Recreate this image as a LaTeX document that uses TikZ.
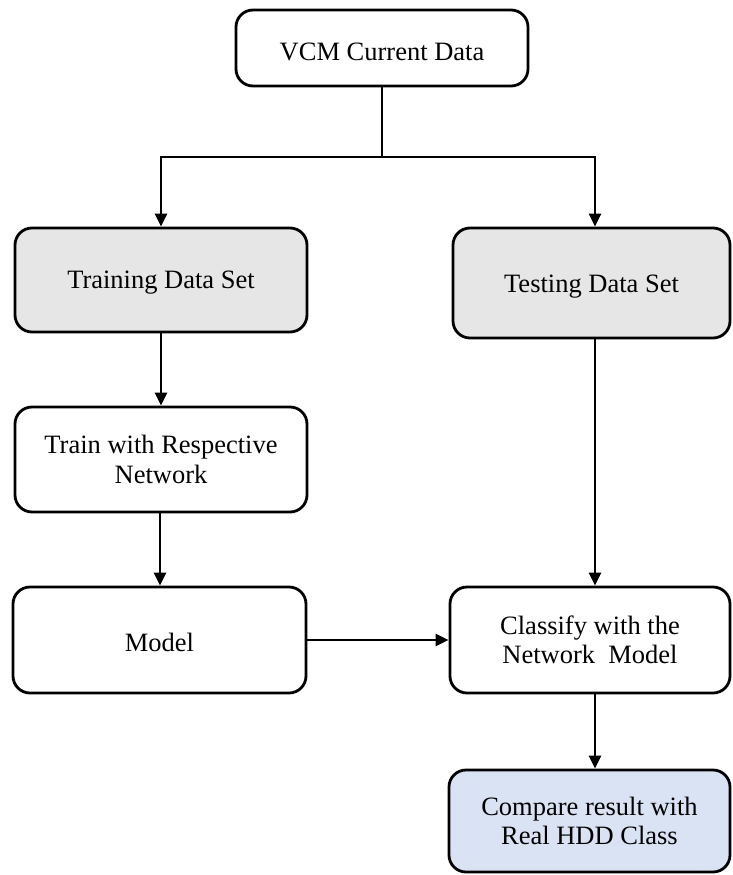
\documentclass[tikz,border=0pt]{standalone}
\usepackage{fontspec}
\setmainfont{Liberation Serif}
\usetikzlibrary{arrows.meta}
\definecolor{boxgray}{HTML}{E6E6E6}
\definecolor{boxblue}{HTML}{DAE3F3}
\begin{document}
\begin{tikzpicture}[x=1pt,y=-1pt,
  flowbox/.style={draw=black, line width=2.8pt, rounded corners=17pt,
    align=center, inner sep=0pt, font=\fontsize{26.5}{29.5}\selectfont},
  link/.style={line width=2.4pt, -{Triangle[length=13pt,width=12pt]}},
  plain/.style={line width=2.4pt}]
\useasboundingbox (0,0) rectangle (732,875);

% boxes
\node[flowbox, minimum width=292pt, minimum height=76pt, text height=28pt, text depth=4pt] (vcm) at (382,48) {VCM Current Data};
\node[flowbox, fill=boxgray, minimum width=292pt, minimum height=104pt, text height=20pt, text depth=4pt] (trainset) at (161,280) {Training Data Set};
\node[flowbox, fill=boxgray, minimum width=277pt, minimum height=110pt, text height=22pt, text depth=4pt] (testset) at (591.5,283) {Testing Data Set};
\node[flowbox, minimum width=292pt, minimum height=105pt] (trainnet) at (161,459.5) {Train with Respective\\Network};
\node[flowbox, minimum width=293pt, minimum height=106pt, text height=26pt, text depth=4pt] (model) at (159.5,640) {Model};
\node[flowbox, minimum width=280pt, minimum height=106pt] (classify) at (590,640) {Classify with the\\Network\ \ Model};
\node[flowbox, fill=boxblue, minimum width=281pt, minimum height=102pt] (compare) at (589.5,821) {Compare result with\\Real HDD Class};

% branch guides
\coordinate (split) at (382,157);
\coordinate (lx) at (161,0);
\coordinate (lx2) at (160,0);
\coordinate (rx) at (595,0);

% connectors
\draw[plain] (vcm.south) -- (split);
\draw[link] (split) -| (lx |- trainset.north);
\draw[link] (split) -| (rx |- testset.north);
\draw[link] (lx |- trainset.south) -- (lx |- trainnet.north);
\draw[link] (lx2 |- trainnet.south) -- (lx2 |- model.north);
\draw[link] (rx |- testset.south) -- (rx |- classify.north);
\draw[link] (model.east) -- (classify.west);
\draw[link] (rx |- classify.south) -- (rx |- compare.north);
\end{tikzpicture}
\end{document}
